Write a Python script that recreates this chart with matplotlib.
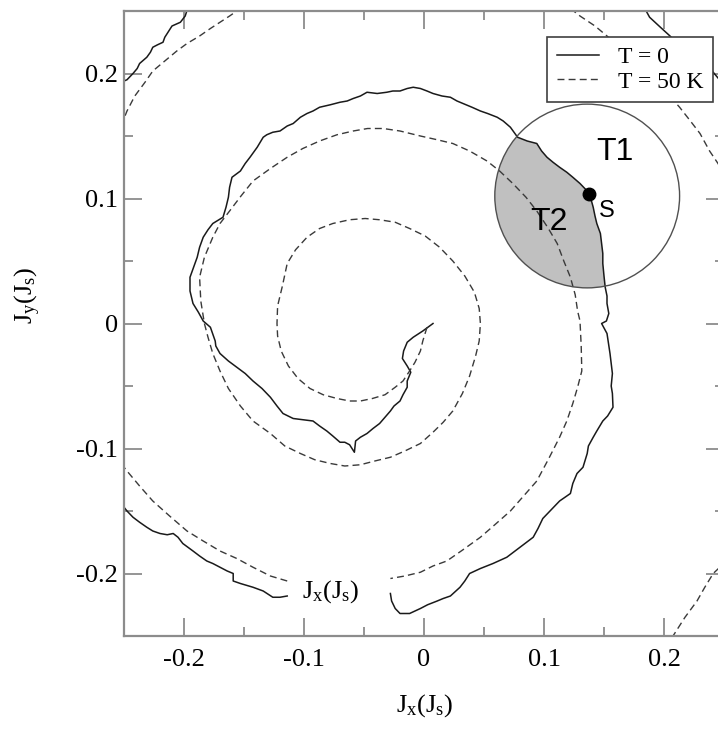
import numpy as np
import matplotlib
matplotlib.use('Agg')
from matplotlib import pyplot as plt
from matplotlib.patches import Ellipse, Polygon

# T = 0 trajectory, split where it leaves the frame / runs behind the label
t0_main_a = [
    (0.0075, 0.000), (-0.001, -0.006), (-0.009, -0.011), (-0.014, -0.015), (-0.017, -0.022),
    (-0.018, -0.028), (-0.014, -0.034), (-0.011, -0.039), (-0.014, -0.046), (-0.014, -0.051),
    (-0.0175, -0.057), (-0.020, -0.062), (-0.025, -0.066), (-0.028, -0.070), (-0.0325, -0.075),
    (-0.037, -0.080), (-0.0425, -0.084), (-0.0475, -0.088), (-0.053, -0.091), (-0.057, -0.094),
    (-0.058, -0.103), (-0.062, -0.097), (-0.066, -0.095), (-0.070, -0.095), (-0.076, -0.090),
    (-0.081, -0.086), (-0.087, -0.082), (-0.0925, -0.078), (-0.101, -0.077), (-0.109, -0.076),
    (-0.1175, -0.072), (-0.1225, -0.066), (-0.128, -0.059), (-0.135, -0.052), (-0.1425, -0.046),
    (-0.149, -0.040), (-0.156, -0.035), (-0.163, -0.030), (-0.170, -0.024), (-0.1735, -0.018),
    (-0.174, -0.014), (-0.178, -0.003), (-0.184, 0.002), (-0.188, 0.009), (-0.1925, 0.016),
    (-0.195, 0.026), (-0.195, 0.037), (-0.192, 0.045), (-0.189, 0.053), (-0.187, 0.061),
    (-0.184, 0.069), (-0.180, 0.075), (-0.176, 0.080), (-0.1675, 0.085), (-0.165, 0.093),
    (-0.163, 0.101), (-0.162, 0.109), (-0.160, 0.117), (-0.153, 0.122), (-0.149, 0.128),
    (-0.145, 0.133), (-0.139, 0.141), (-0.134, 0.149), (-0.131, 0.151), (-0.126, 0.153),
    (-0.120, 0.154), (-0.114, 0.158), (-0.109, 0.160), (-0.103, 0.165), (-0.0975, 0.168),
    (-0.0925, 0.170), (-0.087, 0.173), (-0.078, 0.175), (-0.070, 0.177), (-0.064, 0.178),
    (-0.059, 0.180), (-0.053, 0.182), (-0.0475, 0.185), (-0.039, 0.184), (-0.031, 0.185),
    (-0.026, 0.186), (-0.020, 0.186), (-0.014, 0.188), (-0.009, 0.189), (-0.003, 0.188),
    (0.0025, 0.186), (0.0075, 0.184), (0.015, 0.182), (0.022, 0.181), (0.0275, 0.178),
    (0.0325, 0.176), (0.040, 0.173), (0.047, 0.170), (0.053, 0.168), (0.061, 0.165),
    (0.066, 0.162), (0.072, 0.157), (0.078, 0.149), (0.086, 0.146), (0.094, 0.144),
    (0.098, 0.138), (0.1025, 0.133), (0.1075, 0.129), (0.113, 0.125), (0.119, 0.121),
    (0.124, 0.117), (0.130, 0.112), (0.136, 0.106), (0.139, 0.100), (0.141, 0.093),
    (0.1425, 0.086), (0.144, 0.080), (0.147, 0.072), (0.148, 0.064), (0.149, 0.056),
    (0.149, 0.048), (0.150, 0.038), (0.151, 0.029), (0.1525, 0.022), (0.1525, 0.016),
    (0.154, 0.008), (0.152, 0.002), (0.148, 0.000), (0.1525, -0.008), (0.155, -0.024),
    (0.157, -0.040), (0.156, -0.050), (0.157, -0.056), (0.1575, -0.067), (0.153, -0.074),
    (0.149, -0.078), (0.144, -0.086), (0.141, -0.091), (0.137, -0.098), (0.136, -0.104),
    (0.1325, -0.115), (0.1275, -0.120), (0.124, -0.128), (0.122, -0.136), (0.113, -0.142),
    (0.105, -0.150), (0.099, -0.156), (0.095, -0.164), (0.091, -0.171), (0.080, -0.179),
    (0.069, -0.187), (0.0575, -0.192), (0.047, -0.196), (0.038, -0.200), (0.034, -0.206),
    (0.030, -0.211), (0.022, -0.218), (0.016, -0.220), (0.011, -0.222), (0.003, -0.225),
    (-0.003, -0.228), (-0.012, -0.232), (-0.020, -0.232), (-0.024, -0.228), (-0.027, -0.222),
    (-0.028, -0.216),
]
t0_main_b = [
    (-0.114, -0.218), (-0.120, -0.219), (-0.126, -0.219), (-0.134, -0.214), (-0.1425, -0.211),
    (-0.153, -0.208), (-0.159, -0.206), (-0.159, -0.200), (-0.164, -0.198), (-0.170, -0.195),
    (-0.176, -0.192), (-0.181, -0.190), (-0.187, -0.186), (-0.1925, -0.182), (-0.201, -0.176),
    (-0.205, -0.171), (-0.209, -0.168), (-0.214, -0.169), (-0.220, -0.168), (-0.226, -0.166),
    (-0.231, -0.163), (-0.237, -0.159), (-0.2425, -0.155), (-0.2475, -0.150), (-0.2525, -0.144),
]
t0_topleft = [
    (-0.2525, 0.193), (-0.2475, 0.195), (-0.2425, 0.200), (-0.239, 0.204), (-0.237, 0.208),
    (-0.231, 0.213), (-0.228, 0.217), (-0.226, 0.221), (-0.222, 0.223), (-0.2175, 0.225),
    (-0.216, 0.229), (-0.214, 0.232), (-0.210, 0.238), (-0.203, 0.241), (-0.199, 0.246),
    (-0.197, 0.252),
]
t0_topright = [
    (0.184, 0.252), (0.188, 0.245), (0.1925, 0.241), (0.197, 0.237), (0.205, 0.230),
    (0.222, 0.214), (0.241, 0.201), (0.248, 0.193),
]

# T = 50 K trajectory
t50_main_a = [
    (0.0025, -0.003), (-0.001, -0.014), (-0.003, -0.022), (-0.0075, -0.031), (-0.012, -0.038),
    (-0.0175, -0.046), (-0.024, -0.051), (-0.0325, -0.057), (-0.043, -0.060), (-0.053, -0.062),
    (-0.062, -0.062), (-0.0725, -0.060), (-0.084, -0.057), (-0.095, -0.052), (-0.105, -0.044),
    (-0.113, -0.034), (-0.119, -0.022), (-0.122, -0.010), (-0.1225, 0.000), (-0.122, 0.014),
    (-0.118, 0.030), (-0.114, 0.048), (-0.107, 0.059), (-0.0975, 0.069), (-0.087, 0.076),
    (-0.076, 0.080), (-0.062, 0.083), (-0.049, 0.084), (-0.037, 0.083), (-0.024, 0.081),
    (-0.012, 0.076), (0.001, 0.070), (0.013, 0.061), (0.024, 0.050), (0.034, 0.038),
    (0.042, 0.025), (0.046, 0.012), (0.047, 0.000), (0.046, -0.014), (0.043, -0.026),
    (0.038, -0.042), (0.032, -0.056), (0.024, -0.070), (0.016, -0.079), (0.0075, -0.087),
    (-0.003, -0.096), (-0.016, -0.102), (-0.028, -0.107), (-0.041, -0.110), (-0.053, -0.113),
    (-0.066, -0.114), (-0.078, -0.112), (-0.091, -0.109), (-0.103, -0.104), (-0.116, -0.098),
    (-0.128, -0.088), (-0.1425, -0.078), (-0.153, -0.066), (-0.163, -0.052), (-0.170, -0.038),
    (-0.176, -0.024), (-0.180, -0.011), (-0.183, 0.000), (-0.186, 0.018), (-0.187, 0.037),
    (-0.183, 0.053), (-0.176, 0.069), (-0.170, 0.080), (-0.162, 0.090), (-0.1525, 0.102),
    (-0.1425, 0.114), (-0.128, 0.124), (-0.114, 0.133), (-0.101, 0.140), (-0.087, 0.146),
    (-0.0725, 0.151), (-0.059, 0.154), (-0.047, 0.156), (-0.034, 0.156), (-0.020, 0.154),
    (-0.003, 0.150), (0.011, 0.147), (0.024, 0.144), (0.038, 0.138), (0.0525, 0.130),
    (0.063, 0.122), (0.074, 0.112), (0.085, 0.101), (0.094, 0.090), (0.103, 0.077),
    (0.111, 0.064), (0.1165, 0.050), (0.122, 0.037), (0.126, 0.023), (0.128, 0.010),
    (0.130, 0.002), (0.131, -0.018), (0.1315, -0.038), (0.128, -0.051), (0.124, -0.064),
    (0.119, -0.078), (0.113, -0.091), (0.104, -0.108), (0.094, -0.126), (0.083, -0.138),
    (0.072, -0.150), (0.059, -0.161), (0.047, -0.171), (0.0325, -0.181), (0.019, -0.190),
    (0.0075, -0.194), (-0.003, -0.199), (-0.016, -0.202), (-0.028, -0.204),
]
t50_main_b = [
    (-0.114, -0.206), (-0.128, -0.202), (-0.1425, -0.195), (-0.156, -0.188), (-0.170, -0.182),
    (-0.184, -0.174), (-0.1975, -0.166), (-0.212, -0.154), (-0.226, -0.142), (-0.237, -0.130),
    (-0.2475, -0.118), (-0.2525, -0.112),
]
t50_topleft = [
    (-0.2525, 0.158), (-0.2475, 0.170), (-0.241, 0.182), (-0.2325, 0.193), (-0.226, 0.202),
    (-0.216, 0.210), (-0.206, 0.218), (-0.1975, 0.224), (-0.187, 0.230), (-0.178, 0.236),
    (-0.170, 0.241), (-0.162, 0.246), (-0.156, 0.250), (-0.153, 0.252),
]
t50_topright = [
    (0.122, 0.252), (0.130, 0.246), (0.1425, 0.238), (0.1525, 0.230), (0.180, 0.206),
    (0.201, 0.186), (0.213, 0.173), (0.222, 0.162), (0.230, 0.152), (0.238, 0.138),
    (0.245, 0.128), (0.252, 0.116),
]
t50_bottomright = [
    (0.252, -0.190), (0.241, -0.200), (0.234, -0.211), (0.2275, -0.222), (0.2175, -0.235),
    (0.2075, -0.250), (0.205, -0.254),
]

# point S and the circle around it
s_point = (0.1375, 0.104)
circle_center = (0.136, 0.102)
circle_rx, circle_ry = 0.077, 0.0735

ticks = [-0.2, -0.1, 0, 0.1, 0.2]
tick_labels = ['-0.2', '-0.1', '0', '0.1', '0.2']
minor_ticks = [-0.15, -0.05, 0.05, 0.15]

plt.rcParams['font.family'] = ['Liberation Serif', 'DejaVu Serif']
plt.rcParams['mathtext.fontset'] = 'custom'
plt.rcParams['mathtext.rm'] = 'Liberation Serif'
plt.rcParams['mathtext.it'] = 'Liberation Serif:italic'
plt.rcParams['axes.unicode_minus'] = False

fig = plt.figure(figsize=(7.18, 7.29), dpi=100)
ax = fig.add_axes([124 / 718, 93 / 729, 600 / 718, 625 / 729])

# 灰色区域 T2: 圆内、实线左侧
ell = Ellipse(circle_center, 2 * circle_rx, 2 * circle_ry, facecolor='none',
              edgecolor='#505050', lw=1.0, zorder=3)
ax.add_patch(ell)
main = np.array(t0_main_a)
r2 = ((main[:, 0] - circle_center[0]) / circle_rx) ** 2 + ((main[:, 1] - circle_center[1]) / circle_ry) ** 2
inside = main[r2 < 1.15]
shade = np.vstack([inside, [[inside[-1, 0], 0.0], [0.0, 0.0], [0.0, 0.2], [inside[0, 0], 0.2]]])
poly = Polygon(shade, closed=True, facecolor='#c0c0c0', edgecolor='none', zorder=1)
ax.add_patch(poly)
poly.set_clip_path(ell)

# 绘制数据
solid_kw = dict(color='#1a1a1a', lw=1.1, zorder=2)
dash_kw = dict(color='#3a3a3a', lw=1.0, ls=(0, (5, 3)), zorder=2)
for i, seg in enumerate([t0_main_a, t0_main_b, t0_topleft, t0_topright]):
    seg = np.array(seg)
    ax.plot(seg[:, 0], seg[:, 1], label='T = 0' if i == 0 else None, **solid_kw)
for i, seg in enumerate([t50_main_a, t50_main_b, t50_topleft, t50_topright, t50_bottomright]):
    seg = np.array(seg)
    ax.plot(seg[:, 0], seg[:, 1], label='T = 50 K' if i == 0 else None, **dash_kw)

ax.plot(*s_point, 'o', color='black', ms=9, zorder=4)
ax.text(0.159, 0.1376, 'T1', family='Liberation Sans', fontsize=23, ha='center', va='center', zorder=5)
ax.text(0.104, 0.081, 'T2', family='Liberation Sans', fontsize=23, ha='center', va='center', zorder=5)
ax.text(0.1525, 0.090, 'S', family='Liberation Sans', fontsize=17, ha='center', va='center', zorder=5)
ax.text(-0.078, -0.219, r'$\mathrm{J_x(J_s)}$', fontsize=19, ha='center', va='baseline', zorder=5)

# 标准化图像
ax.set_xlim(-0.25, 0.25)
ax.set_ylim(-0.25, 0.25)
ax.set_xticks(ticks)
ax.set_xticklabels(tick_labels)
ax.set_yticks(ticks)
ax.set_yticklabels(tick_labels)
ax.set_xticks(minor_ticks, minor=True)
ax.set_yticks(minor_ticks, minor=True)
ax.tick_params(which='both', direction='in', top=True, right=True, color='#8c8c8c', width=1.3)
ax.tick_params(which='major', length=13, labelsize=19)
ax.tick_params(which='minor', length=6.5)
ax.tick_params(axis='x', pad=9)
ax.tick_params(axis='y', pad=4.5)
for sp in ax.spines.values():
    sp.set_color('#8c8c8c')
    sp.set_linewidth(1.6)

ax.set_xlabel(r'$\mathrm{J_x(J_s)}$', fontsize=19)
ax.xaxis.set_label_coords(0.5, -0.09)
ax.set_ylabel(r'$\mathrm{J_y(J_s)}$', fontsize=19)
ax.yaxis.set_label_coords(-0.135, 0.545)

leg = ax.legend(loc='upper right', bbox_to_anchor=(0.982, 0.958), borderaxespad=0,
                fontsize=17, fancybox=False, framealpha=1, edgecolor='#404040',
                handlelength=1.8, handletextpad=0.8, labelspacing=0.12, borderpad=0.4)
leg.get_frame().set_linewidth(1.2)
leg.set_zorder(10)

plt.savefig('out.png', dpi=100)
